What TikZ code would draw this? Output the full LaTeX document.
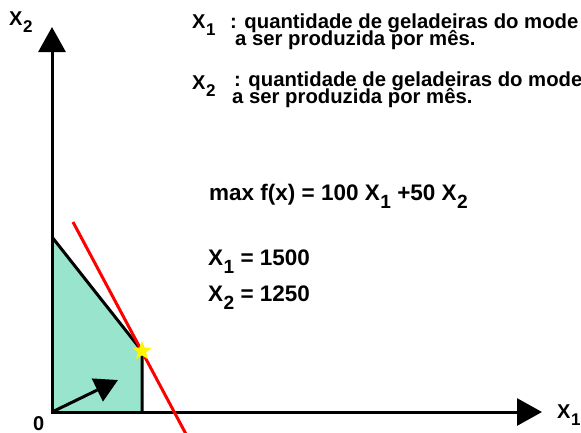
\documentclass[tikz,border=0pt]{standalone}
\usepackage{graphicx}
\usepackage{fontspec}
\setmainfont{Liberation Sans}
\usetikzlibrary{arrows.meta, shapes.geometric}
\definecolor{regionfill}{RGB}{152,228,204}
\definecolor{objred}{RGB}{255,0,0}
\definecolor{optyellow}{RGB}{255,245,0}
\newcommand{\varx}[1]{X\kern0.5pt\raisebox{-0.38em}{\scalebox{0.85}{#1}}}
\tikzset{
  axis/.style={line width=3pt, line cap=rect, -{Triangle[length=25pt,width=27pt]}},
  edge/.style={line width=3pt, black},
  objline/.style={line width=3pt, objred},
  gradarrow/.style={line width=3pt, -{Triangle[length=23pt,width=25pt]}},
  lbl/.style={font=\fontsize{20}{24}\selectfont\bfseries, inner sep=0pt},
  bigtext/.style={font=\fontsize{22.5}{26}\selectfont\bfseries, inner sep=0pt},
  desc/.style={font=\fontsize{20.3}{22}\selectfont\bfseries, inner sep=0pt},
  optstar/.style={star, star points=5, star point ratio=2.3, fill=optyellow,
    minimum size=20pt, inner sep=0pt}
}

\begin{document}
\begin{tikzpicture}[x=1pt, y=-1pt]
  \useasboundingbox (0,0) rectangle (581,432);

  % corner points of the feasible region
  \coordinate (O) at (52,412);
  \coordinate (A) at (52,237);
  \coordinate (B) at (142,351);
  \coordinate (C) at (142,412);
  \coordinate (ytip) at (52,27);
  \coordinate (xtip) at (542,412);
  \coordinate (R1) at (73,222);
  \coordinate (R2) at (187,436);
  \coordinate (G) at (118,380);

  % feasible region
  \fill[regionfill] (O) -- (A) -- (B) -- (C) -- cycle;

  % axes
  \draw[axis] (O) -- (ytip);
  \draw[axis] (O) -- (xtip);
  \node[lbl, anchor=base west] (ylabel) at (9,25) {\varx{2}};
  \node[lbl, anchor=base west] (xlabel) at (557,418) {\varx{1}};
  \node[lbl, anchor=base west] (zero) at (33,430) {0};

  % constraints and objective
  \draw[edge] (A) -- (B) -- (C);
  \draw[objline] (R1) -- (R2);
  \draw[gradarrow] (O) -- (G);
  \node[optstar] (opt) at (B) {};

  % variable descriptions
  \node[lbl, anchor=base west] (v1) at (192,28) {\varx{1}};
  \node[desc, anchor=base west] (d1) at (230,28) {: quantidade de geladeiras do mode};
  \node[desc, anchor=base west] (d1b) at (235,45) {a ser produzida por mês.};
  \node[lbl, anchor=base west] (v2) at (192,89) {\varx{2}};
  \node[desc, anchor=base west] (d2) at (234,86) {: quantidade de geladeiras do mode};
  \node[desc, anchor=base west] (d2b) at (232,103) {a ser produzida por mês.};

  % objective and solution
  \node[bigtext, anchor=base west] (fobj) at (209,200) {max f(x) = 100 \varx{1} +50 \varx{2}};
  \node[bigtext, anchor=base west] (sol1) at (208,265) {\varx{1} = 1500};
  \node[bigtext, anchor=base west] (sol2) at (208,301) {\varx{2} = 1250};
\end{tikzpicture}
\end{document}
